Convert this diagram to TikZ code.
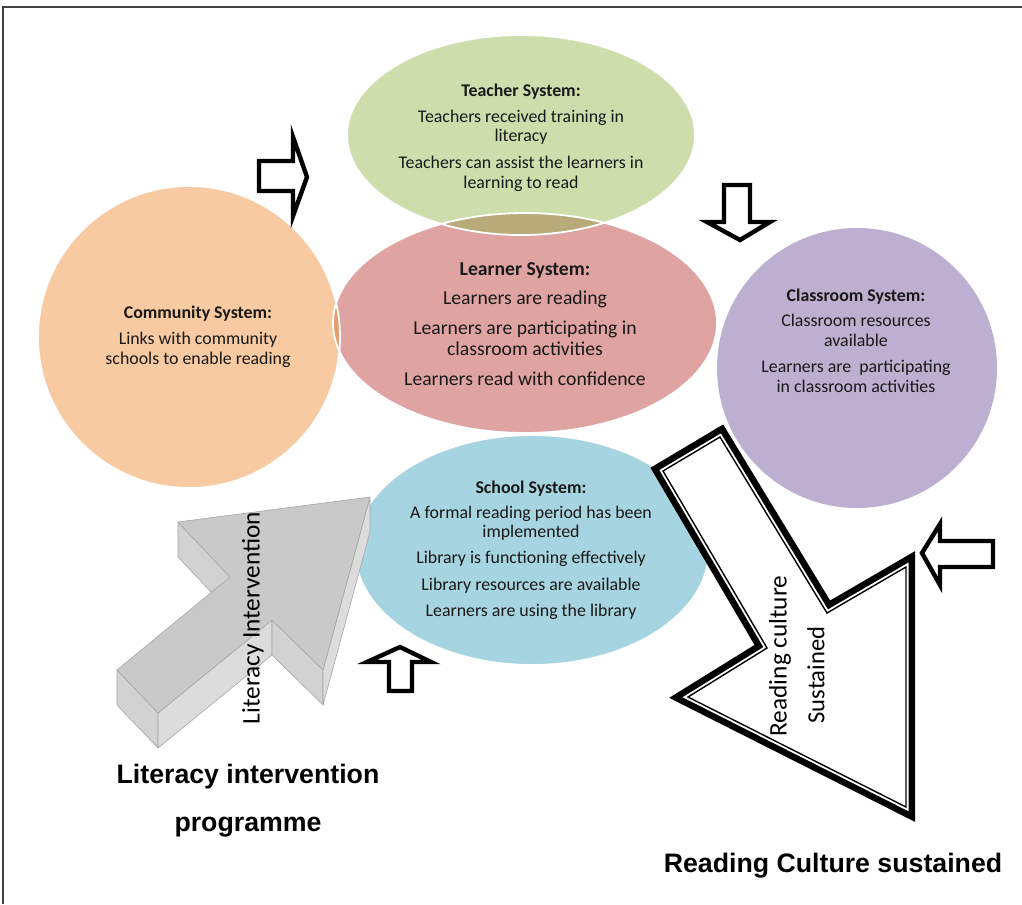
\documentclass[tikz,border=0pt]{standalone}
\usepackage{fontspec}
\setmainfont{Carlito}
\newfontfamily\labelfont{Liberation Sans}
\usepackage{xcolor}
\usetikzlibrary{calc}

\definecolor{teachergreen}{HTML}{CDDDAC}
\definecolor{learnerpink}{HTML}{DFA4A2}
\definecolor{communityorange}{HTML}{F8CAA1}
\definecolor{classpurple}{HTML}{BDAFD0}
\definecolor{schoolblue}{HTML}{A7D4E1}
\definecolor{olivemix}{HTML}{B9AA7A}
\definecolor{orangemix}{HTML}{E79C70}
\definecolor{bluemix}{HTML}{A9A4AC}
\definecolor{arrowtop}{HTML}{C9C9C9}
\definecolor{arrowside}{HTML}{DCDCDC}
\definecolor{arrowtail}{HTML}{D2D2D2}

\newcommand{\systitle}[1]{{\bfseries #1}}

\tikzset{
    sysedge/.style={
        draw=white,
        line width=0.45mm
    },
    systext/.style={
        align=center,
        inner sep=0pt,
        text=black!90,
        font=\fontsize{12.7}{14}\selectfont
    },
    blockarrow/.style={
        draw=black,
        fill=white,
        line width=1.1mm,
        line join=miter
    },
    solidface/.style={
        draw=black!35,
        line width=0.15mm,
        line join=round
    },
    bigtext/.style={
        font=\labelfont\bfseries\fontsize{19}{34}\selectfont,
        align=center,
        inner sep=0pt
    },
    sidetext/.style={
        font=\fontsize{18}{21}\selectfont,
        rotate=90,
        inner sep=0pt
    }
}

\begin{document}
\begin{tikzpicture}[x=0.25mm, y=-0.25mm]
\useasboundingbox (0,0) rectangle (1022,904);

% frame lines
\draw[black!75, line width=0.3mm] (3,904) -- (3,7) -- (1022,7);

% the five systems
\fill[communityorange] (189,337) circle [radius=151];
\fill[teachergreen] (521,135) ellipse [x radius=174, y radius=100];
\fill[classpurple] (857,368) ellipse [x radius=140, y radius=140];
\fill[schoolblue] (532,550) ellipse [x radius=177, y radius=115];
\fill[learnerpink] (525,323) ellipse [x radius=192, y radius=110];

% overlaps
\begin{scope}
    \clip (525,323) ellipse [x radius=192, y radius=110];
    \fill[olivemix] (521,135) ellipse [x radius=174, y radius=100];
    \fill[orangemix] (189,337) circle [radius=151];
    \fill[bluemix] (532,550) ellipse [x radius=177, y radius=115];
\end{scope}

\draw[sysedge] (189,337) circle [radius=151];
\draw[sysedge] (521,135) ellipse [x radius=174, y radius=100];
\draw[sysedge] (532,550) ellipse [x radius=177, y radius=115];
\draw[sysedge] (525,323) ellipse [x radius=192, y radius=110];

\node[systext] (teacher) at (521,138) {\systitle{Teacher System:}\\[1.4mm]
    Teachers received training in\\ literacy\\[1.8mm]
    Teachers can assist the learners in\\ learning to read};
\node[systext, font=\fontsize{14}{15}\selectfont] (learner) at (525,324) {\systitle{Learner System:}\\[2mm]
    Learners are reading\\[2.2mm]
    Learners are participating in\\ classroom activities\\[2.2mm]
    Learners read with confidence};
\node[systext] (community) at (198,337) {\systitle{Community System:}\\[1.6mm]
    Links with community\\ schools to enable reading};
\node[systext] (classroom) at (856,341) {\systitle{Classroom System:}\\[1.3mm]
    Classroom resources\\ available\\[1.7mm]
    Learners are\ \ participating\\ in classroom activities};
\node[systext] (school) at (531,550) {\systitle{School System:}\\[1.3mm]
    A formal reading period has been\\ implemented\\[1.6mm]
    Library is functioning effectively\\[1.6mm]
    Library resources are available\\[1.6mm]
    Learners are using the library};

% small block arrows between systems
\draw[blockarrow] (259,161) -- (293,161) -- (293,137) -- (307,177) -- (293,216) -- (293,191) -- (259,191) -- cycle;
\draw[blockarrow] (724,185) -- (750,185) -- (750,222) -- (770,222) -- (740,240) -- (707,222) -- (724,222) -- cycle;
\draw[blockarrow] (389,691) -- (389,662) -- (367,662) -- (400,647) -- (431,662) -- (412,662) -- (412,691) -- cycle;
\draw[blockarrow] (993,541) -- (993,567) -- (940,567) -- (940,585) -- (922,553) -- (940,524) -- (940,541) -- cycle;

% grey solid arrow: literacy intervention
\coordinate (t1) at (117,670);
\coordinate (n1) at (230,577);
\coordinate (b1) at (178,522);
\coordinate (tip) at (370,497);
\coordinate (b2) at (323,670);
\coordinate (n2) at (272,620);
\coordinate (t2) at (158,713);
\foreach \a/\b/\c in {t1/t2/arrowtail, t2/n2/arrowside, n2/b2/arrowtail, b2/tip/arrowside, b1/n1/arrowtail}{
    \filldraw[solidface, fill=\c] (\a) -- (\b) -- ($(\b)+(0,35)$) -- ($(\a)+(0,35)$) -- cycle;
}
\filldraw[solidface, fill=arrowtop] (t1) -- (n1) -- (b1) -- (tip) -- (b2) -- (n2) -- (t2) -- cycle;
\node[sidetext] (literacy) at (253,618) {Literacy Intervention};

% white double-lined arrow: reading culture sustained
\def\sustainpath{(663,471) -- (720,437) -- (827,613) -- (906,567) -- (906,807) -- (688,697) -- (767,648) -- cycle}
\draw[black, line width=4.6mm, line join=miter] \sustainpath;
\fill[white] \sustainpath;
\draw[white, line width=1.3mm, line join=miter] \sustainpath;
\draw[black, line width=0.35mm, line join=miter] \sustainpath;
\node[sidetext] (reading) at (780,656) {Reading culture};
\node[sidetext, font=\fontsize{17.5}{21}\selectfont] (sustained) at (816,675) {Sustained};

% captions
\node[bigtext] (programme) at (248,801) {Literacy intervention\\ programme};
\node[bigtext] (culture) at (833,866) {Reading Culture sustained};
\end{tikzpicture}
\end{document}
